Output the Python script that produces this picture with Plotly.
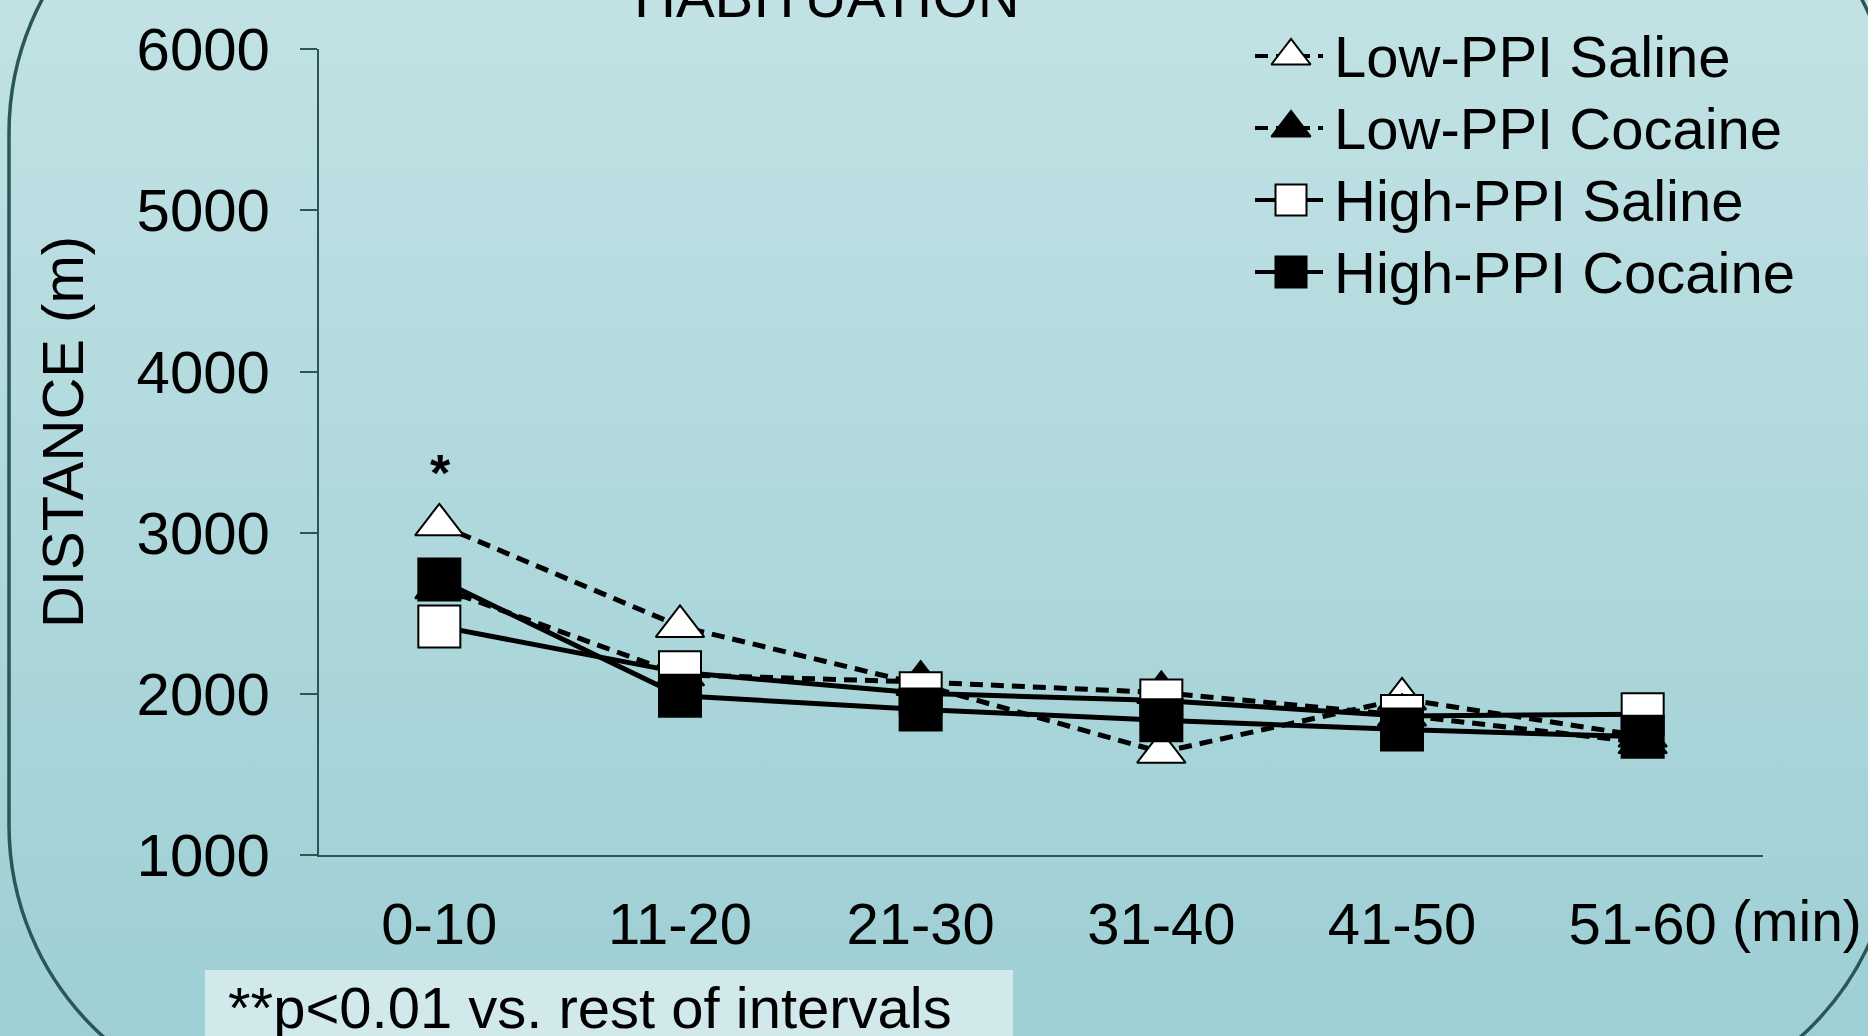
import base64
import plotly.graph_objects as go

W, H = 1868, 1036

# ---------------- data ----------------
categories = ["0-10", "11-20", "21-30", "31-40", "41-50", "51-60"]
series_names = ["Low-PPI Saline", "Low-PPI Cocaine", "High-PPI Saline", "High-PPI Cocaine"]
low_saline = [3050, 2420, 2060, 1640, 1970, 1740]
low_cocaine = [2660, 2120, 2075, 2010, 1870, 1700]
high_saline = [2420, 2135, 2005, 1960, 1865, 1875]
high_cocaine = [2710, 1990, 1905, 1838, 1780, 1735]
low_saline_err = [250, 150, 150, 275, 200, 215]
low_cocaine_err = [150, 150, 150, 150, 150, 276]
high_saline_err = [125, 100, 313, 100, 100, 100]
high_cocaine_err = [100, 130, 182, 100, 275, 100]
y_ticks = [1000, 2000, 3000, 4000, 5000, 6000]

values = [low_saline, low_cocaine, high_saline, high_cocaine]
errors = [low_saline_err, low_cocaine_err, high_saline_err, high_cocaine_err]

# ---------------- styles ----------------
FONT = "Liberation Sans, Arial, sans-serif"
AX = "#2b5656"
DASH = "13px,8px"
styles = [
    dict(symbol="triangle-up", fill="white", dash=DASH, size=42, lsize=34),
    dict(symbol="triangle-up", fill="black", dash=DASH, size=42, lsize=34),
    dict(symbol="square", fill="white", dash="solid", size=42, lsize=31),
    dict(symbol="square", fill="black", dash="solid", size=42, lsize=31),
]

fig = go.Figure()

for name, vals, err, st in zip(series_names, values, errors, styles):
    fig.add_trace(go.Scatter(
        x=categories, y=vals, name=name, mode="lines+markers",
        line=dict(color="black", width=5, dash=st["dash"]),
        marker=dict(symbol=st["symbol"], size=st["size"], color=st["fill"],
                    line=dict(color="black", width=2)),
        error_y=dict(type="data", symmetric=False, arrayminus=err,
                     color="black", thickness=1.6, width=6),
        showlegend=False, xaxis="x", yaxis="y", cliponaxis=False,
    ))

# ---------------- manual legend on a pixel-space overlay axis ----------------
LEG_TOP, LEG_STEP = 56, 72
LEG_X0, LEG_XM, LEG_X1, LEG_TX = 1255, 1291, 1323, 1332
annotations = []
for i, (name, st) in enumerate(zip(series_names, styles)):
    yy = LEG_TOP + i * LEG_STEP
    fig.add_trace(go.Scatter(
        x=[LEG_X0, LEG_X1], y=[yy, yy], mode="lines",
        line=dict(color="black", width=4, dash=st["dash"]),
        xaxis="x2", yaxis="y2", showlegend=False, hoverinfo="skip"))
    fig.add_trace(go.Scatter(
        x=[LEG_XM], y=[yy], mode="markers",
        marker=dict(symbol=st["symbol"], size=st["lsize"], color=st["fill"],
                    line=dict(color="black", width=2)),
        xaxis="x2", yaxis="y2", showlegend=False, hoverinfo="skip"))
    annotations.append(dict(x=LEG_TX, y=yy, xref="x2", yref="y2", text=name,
                            showarrow=False, xanchor="left", yanchor="middle",
                            font=dict(family=FONT, size=58, color="black")))


def px(x):
    return x / W


def py(y):
    return 1 - y / H


# other texts
annotations += [
    dict(x=px(827), y=py(-4), xref="paper", yref="paper", text="HABITUATION", showarrow=False,
         xanchor="center", yanchor="middle", font=dict(family=FONT, size=58, color="black")),
    dict(x=62, y=432, xref="x2", yref="y2", text="DISTANCE (m)", showarrow=False,
         textangle=-90, xanchor="center", yanchor="middle",
         font=dict(family=FONT, size=58, color="black")),
    dict(x=1797, y=921, xref="x2", yref="y2", text="(min)", showarrow=False,
         xanchor="center", yanchor="middle", font=dict(family=FONT, size=57, color="black")),
    dict(x=440, y=473, xref="x2", yref="y2", text="<b>*</b>", showarrow=False,
         xanchor="center", yanchor="middle", font=dict(family=FONT, size=52, color="black")),
    dict(x=px(226), y=py(1007), xref="paper", yref="paper", text="**p<0.01 vs. rest of intervals",
         showarrow=False, xanchor="left", yanchor="middle",
         font=dict(family=FONT, size=58, color="black")),
]

# ---------------- background & border ----------------
svg = ('<svg xmlns="http://www.w3.org/2000/svg" width="%d" height="%d" preserveAspectRatio="none">'
       '<defs><linearGradient id="g" x1="0" y1="0" x2="0" y2="1">'
       '<stop offset="0" stop-color="#c2e2e5"/><stop offset="1" stop-color="#9dcfd4"/>'
       '</linearGradient></defs><rect width="100%%" height="100%%" fill="url(#g)"/></svg>') % (W, H)
src = "data:image/svg+xml;base64," + base64.b64encode(svg.encode()).decode()

L, R_, T, B, RAD = 9, 1895, -152, 1110, 285
k = 0.5523 * RAD
pts = [
    ("M", [(L + RAD, T)]),
    ("L", [(R_ - RAD, T)]),
    ("C", [(R_ - RAD + k, T), (R_, T + RAD - k), (R_, T + RAD)]),
    ("L", [(R_, B - RAD)]),
    ("C", [(R_, B - RAD + k), (R_ - RAD + k, B), (R_ - RAD, B)]),
    ("L", [(L + RAD, B)]),
    ("C", [(L + RAD - k, B), (L, B - RAD + k), (L, B - RAD)]),
    ("L", [(L, T + RAD)]),
    ("C", [(L, T + RAD - k), (L + RAD - k, T), (L + RAD, T)]),
]
path = " ".join(cmd + " " + " ".join("%.5f,%.5f" % (px(a), py(b)) for a, b in p) for cmd, p in pts) + " Z"

shapes = [
    dict(type="rect", xref="paper", yref="paper", x0=px(205), x1=px(1013), y0=py(1045), y1=py(970),
         fillcolor="#d2e9ec", line=dict(width=0), layer="above"),
    dict(type="path", xref="paper", yref="paper", path=path,
         line=dict(color=AX, width=3.5), layer="above"),
]

fig.update_layout(
    width=W, height=H, margin=dict(l=0, r=0, t=0, b=0, pad=0, autoexpand=False),
    paper_bgcolor="#b0d8dc", plot_bgcolor="rgba(0,0,0,0)",
    font=dict(family=FONT, color="black"),
    images=[dict(source=src, xref="paper", yref="paper", x=0, y=1, sizex=1, sizey=1,
                 xanchor="left", yanchor="top", sizing="stretch", layer="below")],
    xaxis=dict(domain=[px(319), px(1763)], type="category", range=[-0.5, 5.5],
               showline=True, linecolor=AX, linewidth=2, ticks="", showgrid=False,
               zeroline=False, tickfont=dict(family=FONT, size=58, color="black"),
               ticklabelstandoff=17, fixedrange=True, anchor="y", automargin=False),
    yaxis=dict(domain=[py(855.4), py(49)], range=[1000, 6000], tickvals=y_ticks,
               ticks="outside", ticklen=17, tickwidth=2, tickcolor=AX,
               showline=True, linecolor=AX, linewidth=2, showgrid=False, zeroline=False,
               tickfont=dict(family=FONT, size=60, color="black"),
               ticklabelstandoff=18, fixedrange=True, anchor="x", automargin=False),
    xaxis2=dict(domain=[0, 1], range=[0, W], visible=False, anchor="y2", fixedrange=True),
    yaxis2=dict(domain=[0, 1], range=[H, 0], visible=False, anchor="x2", fixedrange=True),
    annotations=annotations, shapes=shapes,
)

fig.write_html("out.html", config={"displayModeBar": False},
               post_script="document.body.style.margin='0px';document.body.style.overflow='hidden';")
